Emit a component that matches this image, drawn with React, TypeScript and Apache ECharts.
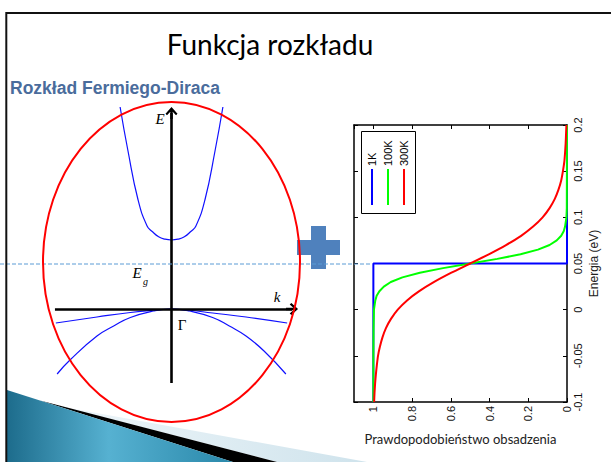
import { useEffect, useRef } from "react";
import * as echarts from "echarts";

// Occupation probability vs energy (eV), one pair of arrays per temperature
const energy1K = [-0.1, 0.05, 0.05, 0.2];
const prob1K = [1, 1, 0, 0];

const energy100K = [-0.1, -0.05, -0.02, 0, 0.01, 0.015, 0.02, 0.025, 0.03, 0.035, 0.04, 0.045, 0.05, 0.055, 0.06, 0.065, 0.07, 0.075, 0.08, 0.085, 0.09, 0.1, 0.11, 0.2];
const prob100K = [1, 1, 0.999, 0.997, 0.99, 0.983, 0.969, 0.946, 0.91, 0.85, 0.76, 0.64, 0.5, 0.36, 0.24, 0.15, 0.09, 0.053, 0.03, 0.017, 0.01, 0.003, 0.001, 0];

const energy300K = [-0.1, -0.09, -0.08, -0.07, -0.06, -0.05, -0.04, -0.03, -0.02, -0.01, 0, 0.01, 0.02, 0.03, 0.04, 0.05, 0.06, 0.07, 0.08, 0.09, 0.1, 0.11, 0.12, 0.13, 0.14, 0.15, 0.16, 0.17, 0.18, 0.19, 0.2];
const prob300K = [0.996, 0.994, 0.991, 0.987, 0.982, 0.976, 0.966, 0.953, 0.935, 0.909, 0.874, 0.826, 0.763, 0.686, 0.597, 0.5, 0.404, 0.315, 0.237, 0.175, 0.126, 0.09, 0.063, 0.044, 0.03, 0.021, 0.014, 0.01, 0.007, 0.005, 0.003];

const legendLabels = ["1K", "100K", "300K"];
const curveColors = ["#0000ff", "#00ff00", "#ff0000"];

// Band diagram E(k) in arbitrary units
const conductionBand = [[-0.4, 2.02], [-0.34, 1.59], [-0.26, 1.09], [-0.19, 0.83], [-0.15, 0.775], [-0.1, 0.722], [-0.05, 0.698], [0, 0.69], [0.05, 0.698], [0.1, 0.722], [0.15, 0.775], [0.19, 0.83], [0.26, 1.09], [0.34, 1.59], [0.4, 2.02]];
const heavyHoleBand = [[-0.9, -0.14], [-0.58, -0.08], [-0.32, -0.035], [-0.12, -0.01], [0, 0], [0.12, -0.01], [0.32, -0.04], [0.58, -0.08], [0.9, -0.14]];
const lightHoleBand = [[-0.89, -0.65], [-0.79, -0.51], [-0.58, -0.27], [-0.45, -0.17], [-0.32, -0.085], [-0.14, -0.02], [0, 0], [0.14, -0.02], [0.32, -0.085], [0.45, -0.17], [0.58, -0.27], [0.72, -0.42], [0.89, -0.65]];
const energyAxisLine = [[0, -0.74], [0, 1.96]];
const kAxisLine = [[-0.907, 0], [0.938, 0]];

const pairs = (energy: number[], prob: number[]) => energy.map((e, i) => [prob[i], e]);

// Open arrowhead with a short stub of shaft, pointing up
const arrowHead = "path://M10,0 L20,10 L17.5,12.5 L12,7 L12,18 L8,18 L8,7 L2.5,12.5 L0,10 Z";

const tickFont = "'Liberation Sans', Arial, sans-serif";
const serif = "'Liberation Serif', 'Times New Roman', serif";

export default function App() {
  const ref = useRef<HTMLDivElement>(null);

  useEffect(() => {
    if (!ref.current) return;
    const chart = echarts.init(ref.current, null, { renderer: "svg" });

    const boxLine = { onZero: false, lineStyle: { color: "#000", width: 1.5 } };
    const innerTick = { show: true, inside: true, length: 4, lineStyle: { color: "#000", width: 1 } };

    const wedgeFill = new echarts.graphic.LinearGradient(0, 0, 1, 0, [
      { offset: 0, color: "#1d6c8c" },
      { offset: 0.45, color: "#56b1d1" },
      { offset: 1, color: "#2a88aa" },
    ]);
    const paleFill = new echarts.graphic.LinearGradient(0, 0, 1, 0, [
      { offset: 0, color: "#eef6fa" },
      { offset: 1, color: "#cfe3ec" },
    ]);

    const legendItems: any[] = [];
    legendLabels.forEach((label, i) => {
      const x = 372 + i * 16;
      legendItems.push({
        type: "line",
        z: 21,
        shape: { x1: x, y1: 169, x2: x, y2: 205 },
        style: { stroke: curveColors[i], lineWidth: 2 },
      });
      legendItems.push({
        type: "text",
        z: 21,
        x,
        y: 166,
        rotation: Math.PI / 2,
        style: { text: label, font: `11px ${tickFont}`, fill: "#000", align: "left", verticalAlign: "middle" },
      });
    });

    const option: any = {
      animation: false,
      backgroundColor: "#ffffff",
      grid: [
        { left: 354, top: 125, width: 213, height: 277, outerBoundsMode: "none" },
        { left: 43, top: 102, width: 257, height: 320, outerBoundsMode: "none" },
      ],
      xAxis: [
        {
          gridIndex: 0,
          type: "value",
          position: "bottom",
          inverse: true,
          min: 0,
          max: 1.1,
          interval: 0.2,
          axisLine: boxLine,
          axisTick: innerTick,
          axisLabel: { rotate: 90, margin: 4, fontSize: 11, fontFamily: tickFont, color: "#111", showMaxLabel: false },
          splitLine: { show: false },
          name: "Prawdopodobieństwo obsadzenia",
          nameLocation: "middle",
          nameGap: 30,
          nameTextStyle: { fontSize: 13, fontFamily: "Lato", color: "#222" },
        },
        {
          gridIndex: 0,
          type: "value",
          position: "top",
          inverse: true,
          min: 0,
          max: 1.1,
          interval: 0.2,
          axisLine: boxLine,
          axisTick: innerTick,
          axisLabel: { show: false },
          splitLine: { show: false },
        },
        { gridIndex: 1, type: "value", min: -1, max: 1, show: false },
      ],
      yAxis: [
        {
          gridIndex: 0,
          type: "value",
          position: "right",
          min: -0.1,
          max: 0.2,
          interval: 0.05,
          axisLine: boxLine,
          axisTick: innerTick,
          axisLabel: { rotate: 90, margin: 5, fontSize: 11, fontFamily: tickFont, color: "#111" },
          splitLine: { show: false },
          name: "Energia (eV)",
          nameLocation: "middle",
          nameRotate: 90,
          nameGap: 21,
          nameTextStyle: { fontSize: 12, fontFamily: tickFont, color: "#222" },
        },
        {
          gridIndex: 0,
          type: "value",
          position: "left",
          min: -0.1,
          max: 0.2,
          interval: 0.05,
          axisLine: boxLine,
          axisTick: innerTick,
          axisLabel: { show: false },
          splitLine: { show: false },
        },
        { gridIndex: 1, type: "value", min: -1.13, max: 2.07, show: false },
      ],
      series: [
        {
          type: "line",
          name: legendLabels[0],
          xAxisIndex: 0,
          yAxisIndex: 0,
          data: pairs(energy1K, prob1K),
          symbol: "none",
          clip: false,
          lineStyle: { color: curveColors[0], width: 2 },
          itemStyle: { color: curveColors[0] },
        },
        {
          type: "line",
          name: legendLabels[1],
          xAxisIndex: 0,
          yAxisIndex: 0,
          data: pairs(energy100K, prob100K),
          symbol: "none",
          clip: false,
          lineStyle: { color: curveColors[1], width: 2 },
          itemStyle: { color: curveColors[1] },
        },
        {
          type: "line",
          name: legendLabels[2],
          xAxisIndex: 0,
          yAxisIndex: 0,
          data: pairs(energy300K, prob300K),
          symbol: "none",
          clip: false,
          smooth: 0.2,
          lineStyle: { color: curveColors[2], width: 2 },
          itemStyle: { color: curveColors[2] },
        },
        ...[conductionBand, heavyHoleBand, lightHoleBand].map((band) => ({
          type: "line",
          xAxisIndex: 2,
          yAxisIndex: 2,
          data: band,
          smooth: true,
          symbol: "none",
          clip: false,
          lineStyle: { color: "#1010ff", width: 1.2 },
          itemStyle: { color: "#1010ff" },
        })),
        {
          type: "lines",
          coordinateSystem: "cartesian2d",
          xAxisIndex: 2,
          yAxisIndex: 2,
          symbol: ["none", arrowHead],
          symbolSize: [13, 12],
          lineStyle: { color: "#000", width: 2.6, opacity: 1, curveness: 0 },
          data: [{ coords: energyAxisLine }, { coords: kAxisLine }],
          z: 4,
        },
      ],
      graphic: [
        // bottom-left wedge of the slide theme
        { type: "polygon", z: 1, shape: { points: [[65, 407.3], [367, 462], [277, 462]] }, style: { fill: paleFill } },
        { type: "polygon", z: 1, shape: { points: [[40, 400.5], [277, 462], [233, 462]] }, style: { fill: "#000" } },
        { type: "polygon", z: 1, shape: { points: [[7, 390], [233, 462], [7, 462]] }, style: { fill: wedgeFill } },
        // slide frame
        { type: "rect", z: 30, shape: { x: 6.3, y: 13, width: 720, height: 520 }, style: { fill: "none", stroke: "#111", lineWidth: 2 } },
        {
          type: "text",
          z: 10,
          x: 270,
          y: 44,
          style: { text: "Funkcja rozkładu", font: "28px Lato", fill: "#000", align: "center", verticalAlign: "middle" },
        },
        {
          type: "text",
          z: 10,
          x: 10,
          y: 88,
          style: { text: "Rozkład Fermiego-Diraca", font: `bold 17.5px ${tickFont}`, fill: "#4a6c9c", align: "left", verticalAlign: "middle" },
        },
        // Fermi level guide
        { type: "line", z: 6, shape: { x1: 0, y1: 264, x2: 372, y2: 264 }, style: { stroke: "#5b9bd5", lineWidth: 1, lineDash: [4, 2] } },
        // plus sign
        { type: "rect", z: 5, shape: { x: 297, y: 240, width: 43, height: 15 }, style: { fill: "#4f81bd" } },
        { type: "rect", z: 5, shape: { x: 311, y: 226, width: 15, height: 43 }, style: { fill: "#4f81bd" } },
        // Brillouin-zone outline
        { type: "ellipse", z: 7, shape: { cx: 171.5, cy: 262, rx: 128.5, ry: 160 }, style: { fill: "none", stroke: "#ff0000", lineWidth: 2 } },
        { type: "text", z: 10, x: 160, y: 119, style: { text: "E", font: `italic 15px ${serif}`, fill: "#000", align: "center", verticalAlign: "middle" } },
        { type: "text", z: 10, x: 137, y: 273, style: { text: "E", font: `italic 15px ${serif}`, fill: "#000", align: "center", verticalAlign: "middle" } },
        { type: "text", z: 10, x: 145.5, y: 281, style: { text: "g", font: `italic 10px ${serif}`, fill: "#000", align: "center", verticalAlign: "middle" } },
        { type: "text", z: 10, x: 277, y: 297, style: { text: "k", font: `italic 15px ${serif}`, fill: "#000", align: "center", verticalAlign: "middle" } },
        { type: "text", z: 10, x: 182, y: 325, style: { text: "Γ", font: `15px ${serif}`, fill: "#000", align: "center", verticalAlign: "middle" } },
        // legend box
        { type: "rect", z: 20, shape: { x: 361.5, y: 131.5, width: 54, height: 82 }, style: { fill: "#fff", stroke: "#000", lineWidth: 1 } },
        ...legendItems,
      ],
    };

    chart.setOption(option);
    return () => chart.dispose();
  }, []);

  return <div ref={ref} style={{ position: "fixed", left: 0, top: 0, width: 611, height: 462 }} />;
}
